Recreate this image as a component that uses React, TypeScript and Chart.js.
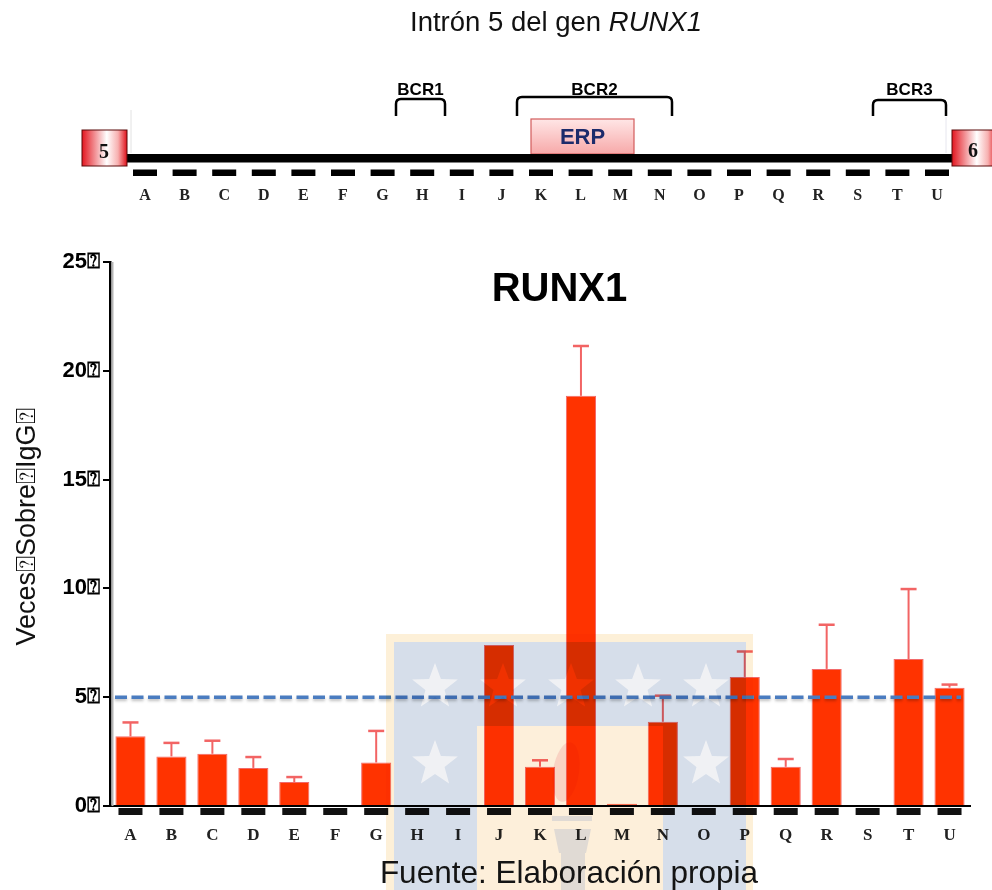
import React, { useEffect, useRef } from "react";
import { Chart, registerables } from "chart.js";

Chart.register(...registerables);

// ---------- data ----------
const categories = ["A", "B", "C", "D", "E", "F", "G", "H", "I", "J", "K", "L", "M", "N", "O", "P", "Q", "R", "S", "T", "U"];
const foldValues = [3.2, 2.28, 2.4, 1.75, 1.1, 0, 2.0, 0, 0, 7.4, 1.8, 18.85, 0.1, 3.87, 0, 5.93, 1.8, 6.3, 0, 6.75, 5.44];
const foldErrors = [0.64, 0.62, 0.6, 0.5, 0.23, 0, 1.45, 0, 0, 0, 0.3, 2.29, 0, 1.2, 0, 1.17, 0.36, 2.03, 0, 3.22, 0.14];
const yTickValues = [0, 5, 10, 15, 20, 25];
const thresholdValue = 5;
const tickSuffix = "\u2370";

const W = 992;
const H = 890;

function starPath(ctx: CanvasRenderingContext2D, cx: number, cy: number, R: number, r: number) {
  for (let k = 0; k < 10; k++) {
    const rad = k % 2 === 0 ? R : r;
    const a = -Math.PI / 2 + (k * Math.PI) / 5;
    const px = cx + rad * Math.cos(a);
    const py = cy + rad * Math.sin(a);
    if (k === 0) ctx.moveTo(px, py);
    else ctx.lineTo(px, py);
  }
  ctx.closePath();
}

const decorPlugin = {
  id: "decor",
  beforeDatasetsDraw(chart: any) {
    const { ctx, chartArea } = chart;
    ctx.save();
    ctx.strokeStyle = "#b5b5b5";
    ctx.lineWidth = 2;
    ctx.beginPath();
    ctx.moveTo(chartArea.left + 2.5, chartArea.top);
    ctx.lineTo(chartArea.left + 2.5, chartArea.bottom);
    ctx.stroke();
    ctx.restore();
  },
  afterDatasetsDraw(chart: any) {
    const { ctx, chartArea } = chart;
    const x = chart.scales.x;
    const y = chart.scales.y;
    const meta = chart.getDatasetMeta(0);
    ctx.save();
    // error bars (upper only)
    ctx.strokeStyle = "#f26464";
    meta.data.forEach((bar: any, i: number) => {
      const e = foldErrors[i];
      if (!e) return;
      const base = y.getPixelForValue(foldValues[i]);
      const top = y.getPixelForValue(foldValues[i] + e);
      ctx.lineWidth = 2;
      ctx.beginPath();
      ctx.moveTo(bar.x, base);
      ctx.lineTo(bar.x, top);
      ctx.stroke();
      ctx.lineWidth = 2.5;
      ctx.beginPath();
      ctx.moveTo(bar.x - 8, top);
      ctx.lineTo(bar.x + 8, top);
      ctx.stroke();
    });
    // threshold dashed line
    const ty = y.getPixelForValue(thresholdValue);
    ctx.shadowColor = "rgba(0,0,0,0.25)";
    ctx.shadowBlur = 3;
    ctx.shadowOffsetY = 2;
    ctx.strokeStyle = "#4a7cc0";
    ctx.lineWidth = 3.5;
    ctx.setLineDash([12, 4.5]);
    ctx.beginPath();
    ctx.moveTo(chartArea.left + 5, ty);
    ctx.lineTo(chartArea.right - 9, ty);
    ctx.stroke();
    ctx.restore();
    // black segments below the axis
    ctx.save();
    ctx.fillStyle = "#111";
    categories.forEach((_, i) => {
      const px = x.getPixelForValue(i);
      ctx.fillRect(px - 12, chartArea.bottom + 2, 24, 7);
    });
    ctx.restore();
  },
  afterDraw(chart: any) {
    const ctx: CanvasRenderingContext2D = chart.ctx;
    const stars: [number, number][] = [
      [435, 687], [503, 687], [571, 687], [638, 687], [706, 687],
      [435, 764], [706, 764],
    ];
    ctx.save();
    ctx.globalCompositeOperation = "multiply";
    // cream frame
    ctx.beginPath();
    ctx.rect(386, 634, 367, 256);
    ctx.rect(394, 642, 352, 248);
    ctx.fillStyle = "#fdf0d8";
    ctx.fill("evenodd");
    // blue shield with holes
    ctx.beginPath();
    ctx.rect(394, 642, 352, 248);
    ctx.rect(477, 726, 186, 164);
    stars.forEach(([sx, sy]) => starPath(ctx, sx, sy, 24, 10));
    ctx.fillStyle = "#d6deea";
    ctx.fill("evenodd");
    // inner cream
    ctx.fillStyle = "#fdefda";
    ctx.fillRect(477, 726, 186, 164);
    // stars
    ctx.beginPath();
    stars.forEach(([sx, sy]) => starPath(ctx, sx, sy, 24, 10));
    ctx.fillStyle = "#f0f1f4";
    ctx.fill();
    // torch
    ctx.fillStyle = "#e2e9f8";
    ctx.fillRect(552, 816, 40, 5);
    ctx.beginPath();
    ctx.moveTo(554, 829);
    ctx.lineTo(591, 829);
    ctx.lineTo(586, 853);
    ctx.lineTo(559, 853);
    ctx.closePath();
    ctx.fill();
    ctx.fillRect(561, 853, 24, 37);
    // flame
    ctx.fillStyle = "#fbe1e4";
    ctx.beginPath();
    ctx.ellipse(566, 772, 13, 30, 0.15, 0, Math.PI * 2);
    ctx.fill();
    ctx.restore();
  },
};

function ChartCanvas() {
  const ref = useRef<HTMLCanvasElement | null>(null);
  useEffect(() => {
    if (!ref.current) return;
    const chart = new Chart(ref.current, {
      type: "bar",
      data: {
        labels: categories,
        datasets: [
          {
            data: foldValues,
            backgroundColor: "#ff3300",
            borderColor: "rgba(240,80,80,0.85)",
            borderWidth: 1,
            barPercentage: 0.92,
            categoryPercentage: 0.8,
          },
        ],
      },
      options: {
        responsive: false,
        animation: false,
        devicePixelRatio: 1,
        layout: { padding: { top: 262, right: 22, bottom: 0, left: 0 } },
        plugins: { legend: { display: false }, tooltip: { enabled: false }, title: { display: false } },
        scales: {
          x: {
            afterFit: (s: any) => {
              s.height = 84;
            },
            grid: { display: false, drawTicks: false },
            border: { display: true, color: "#000", width: 2 },
            ticks: {
              color: "#222",
              padding: 19,
              font: { family: "'Liberation Serif', 'Times New Roman', serif", weight: "bold", size: 17 },
            },
          },
          y: {
            min: 0,
            max: 25,
            afterFit: (s: any) => {
              s.width = 110;
            },
            afterBuildTicks: (s: any) => {
              s.ticks = yTickValues.map((v) => ({ value: v }));
            },
            grid: { drawOnChartArea: false, drawTicks: true, tickLength: 7, color: "#000", lineWidth: 2 },
            border: { display: true, color: "#000", width: 2.5 },
            ticks: {
              color: "#000",
              padding: 3,
              callback: (v: any) => `${v}${tickSuffix}`,
              font: { family: "'Liberation Sans', Arial, sans-serif", weight: "bold", size: 22 },
            },
          },
        },
      },
      plugins: [decorPlugin],
    } as any);
    return () => chart.destroy();
  }, []);
  return (
    <canvas
      ref={ref}
      width={W}
      height={H}
      style={{ position: "absolute", left: 0, top: 0, width: W, height: H }}
    />
  );
}

function Bracket({ x1, x2, yt, yb, label }: { x1: number; x2: number; yt: number; yb: number; label: string }) {
  const r = 5;
  const d = `M ${x1} ${yb} L ${x1} ${yt + r} Q ${x1} ${yt} ${x1 + r} ${yt} L ${x2 - r} ${yt} Q ${x2} ${yt} ${x2} ${yt + r} L ${x2} ${yb}`;
  return (
    <g>
      <path d={d} fill="none" stroke="#000" strokeWidth={2.5} />
      <text
        x={(x1 + x2) / 2}
        y={95}
        textAnchor="middle"
        fontFamily="'Liberation Sans', Arial, sans-serif"
        fontWeight="bold"
        fontSize={17}
        fill="#000"
      >
        {label}
      </text>
    </g>
  );
}

function Overlay() {
  const sans = "'Liberation Sans', Arial, sans-serif";
  const serif = "'Liberation Serif', 'Times New Roman', serif";
  return (
    <svg
      width={W}
      height={H}
      style={{ position: "absolute", left: 0, top: 0, pointerEvents: "none" }}
    >
      <defs>
        <linearGradient id="exon" x1="0" y1="0" x2="1" y2="0">
          <stop offset="0" stopColor="#e3161f" />
          <stop offset="0.55" stopColor="#ffffff" />
          <stop offset="0.8" stopColor="#f7b0b0" />
          <stop offset="1" stopColor="#e0101a" />
        </linearGradient>
        <linearGradient id="erp" x1="0" y1="0" x2="0" y2="1">
          <stop offset="0" stopColor="#ffe6e6" />
          <stop offset="1" stopColor="#f7a9a9" />
        </linearGradient>
      </defs>

      <text x={556} y={31} textAnchor="middle" fontFamily={sans} fontSize={27.5} fill="#111">
        Intrón 5 del gen <tspan fontStyle="italic">RUNX1</tspan>
      </text>

      {/* faint guide lines */}
      <line x1={131} y1={110} x2={131} y2={153} stroke="#e2e2e2" strokeWidth={1} />
      <line x1={946} y1={117} x2={946} y2={153} stroke="#e6e6ee" strokeWidth={1} />

      <Bracket x1={396} x2={445} yt={99} yb={116} label="BCR1" />
      <Bracket x1={517} x2={672} yt={97} yb={116} label="BCR2" />
      <Bracket x1={873} x2={946} yt={100} yb={116} label="BCR3" />

      <rect x={531} y={119} width={103} height={35} fill="url(#erp)" stroke="#d25c5c" strokeWidth={1.2} />
      <text x={582.5} y={144} textAnchor="middle" fontFamily={sans} fontWeight="bold" fontSize={22} fill="#1c2b6b">
        ERP
      </text>

      <rect x={126} y={154} width={827} height={8.5} fill="#000" />

      <rect x={82} y={130} width={45} height={36} fill="url(#exon)" stroke="#5a0a0a" strokeWidth={1} />
      <text x={104} y={158} textAnchor="middle" fontFamily={serif} fontWeight="bold" fontSize={20} fill="#111">
        5
      </text>
      <rect x={952} y={130} width={45} height={36} fill="url(#exon)" stroke="#5a0a0a" strokeWidth={1} />
      <text x={973} y={157} textAnchor="middle" fontFamily={serif} fontWeight="bold" fontSize={20} fill="#111">
        6
      </text>

      {categories.map((c, i) => {
        const cx = 145 + i * 39.6;
        return (
          <g key={c}>
            <rect x={cx - 12} y={169.5} width={24} height={6.5} fill="#000" />
            <text x={cx} y={200} textAnchor="middle" fontFamily={serif} fontWeight="bold" fontSize={16} fill="#222">
              {c}
            </text>
          </g>
        );
      })}

      <text x={559.5} y={301} textAnchor="middle" fontFamily={sans} fontWeight="bold" fontSize={40} fill="#000">
        RUNX1
      </text>

      <text
        transform="translate(35,527) rotate(-90)"
        textAnchor="middle"
        fontFamily={sans}
        fontSize={27}
        fill="#111"
      >
        {`Veces${tickSuffix}Sobre${tickSuffix}IgG${tickSuffix}`}
      </text>

      <text x={569} y={883} textAnchor="middle" fontFamily={sans} fontSize={31.5} fill="#141414">
        Fuente: Elaboración propia
      </text>
    </svg>
  );
}

export default function App() {
  return (
    <div style={{ position: "absolute", left: 0, top: 0, width: W, height: H, background: "#fff", overflow: "hidden" }}>
      <ChartCanvas />
      <Overlay />
    </div>
  );
}
